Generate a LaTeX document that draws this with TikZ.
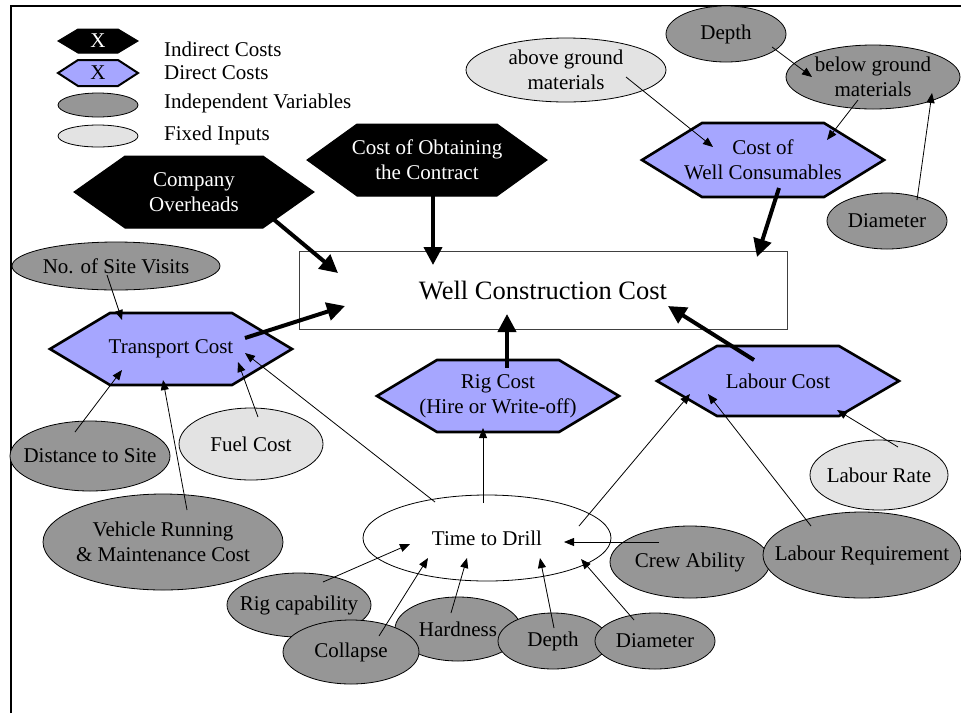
\documentclass[tikz,border=0pt]{standalone}
\usepackage{fontspec}
\setmainfont{Liberation Serif}
\usetikzlibrary{arrows.meta}

\definecolor{directblue}{RGB}{166,166,255}
\definecolor{vargrey}{RGB}{150,150,150}
\definecolor{fixedgrey}{RGB}{227,227,227}

\tikzset{
  lbl/.style={font=\fontsize{21}{25}\selectfont, align=center, inner sep=0pt},
  biglbl/.style={font=\fontsize{26.5}{30}\selectfont, inner sep=0pt},
  ovalline/.style={draw=black, line width=0.8pt},
  indirect/.style={fill=black, draw=black, line width=1pt, line join=miter},
  direct/.style={fill=directblue, draw=black, line width=2.6pt, line join=miter},
  directsmall/.style={fill=directblue, draw=black, line width=2pt, line join=miter},
  whitetext/.style={text=white},
  blacktext/.style={text=black},
  thickarrow/.style={line width=4pt, -{Triangle[length=18pt,width=18pt]}},
  thinarrow/.style={line width=0.8pt, -{Triangle[length=10pt,width=8pt]}},
}

% hexagon with pointed left/right ends:
% name, x, y, half width, half height, inset, outline style, text style, text
\newcommand\hexnode[9]{%
  \coordinate (#1-c) at (#2,#3);
  \path[#7] ([shift={(-#4,0)}]#1-c) -- ([shift={(-#4+#6,-#5)}]#1-c)
    -- ([shift={(#4-#6,-#5)}]#1-c) -- ([shift={(#4,0)}]#1-c)
    -- ([shift={(#4-#6,#5)}]#1-c) -- ([shift={(-#4+#6,#5)}]#1-c) -- cycle;
  \node[lbl, #8] (#1) at (#1-c) {#9};
}

% ellipse with centred label: name, x, y, x radius, y radius, fill, text
\newcommand\ovalnode[7]{%
  \path[ovalline, fill=#6] (#2,#3) ellipse [x radius=#4, y radius=#5];
  \node[lbl] (#1) at (#2,#3) {#7};
}

\begin{document}
\begin{tikzpicture}[x=1pt, y=-1pt]
\useasboundingbox (0,0) rectangle (961,713);

% frame
\draw[line width=2pt, line join=miter] (11,713) -- (11,6) -- (961,6);

% legend
\hexnode{keyind}{98}{41}{40}{12}{20}{indirect}{whitetext}{X}
\hexnode{keydir}{98}{73}{40}{13}{20}{directsmall}{blacktext}{X}
\ovalnode{keyvar}{98}{105}{40}{12}{vargrey}{}
\ovalnode{keyfix}{98}{136}{40}{11}{fixedgrey}{}
\node[lbl, anchor=west] (tind) at (164,49) {Indirect Costs};
\node[lbl, anchor=west] (tdir) at (164,73) {Direct Costs};
\node[lbl, anchor=west] (tvar) at (164,103) {Independent Variables};
\node[lbl, anchor=west] (tfix) at (164,135) {Fixed Inputs};

% main box
\node[draw=black!75, line width=0.8pt, minimum width=488pt, minimum height=78pt,
      biglbl] (wcc) at (543,290) {Well Construction Cost};

% indirect costs
\hexnode{co}{194}{192}{120}{36}{51}{indirect}{whitetext}{Company\\Overheads}
\hexnode{coc}{427}{160}{120}{36}{50}{indirect}{whitetext}{Cost of Obtaining\\the Contract}

% consumables branch
\ovalnode{agm}{566}{70}{100}{32}{fixedgrey}{above ground\\materials}
\ovalnode{depa}{726}{34}{60}{28}{vargrey}{Depth}
\ovalnode{bgm}{873}{77}{87}{32}{vargrey}{below ground\\materials}
\ovalnode{diaa}{887}{221}{60}{28}{vargrey}{Diameter}
\hexnode{cwc}{763}{160}{121}{37}{60}{direct}{blacktext}{Cost of\\Well Consumables}

% transport branch
\ovalnode{nsv}{116}{266}{104}{24}{vargrey}{No. of Site Visits}
\hexnode{tc}{171}{349}{121}{36}{60}{direct}{blacktext}{Transport Cost}
\ovalnode{dts}{90}{456}{80}{35}{vargrey}{Distance to Site}
\ovalnode{fuel}{251}{444}{72}{36}{fixedgrey}{Fuel Cost}
\ovalnode{vrm}{163}{542}{120}{48}{vargrey}{Vehicle Running\\\& Maintenance Cost}

% rig and labour
\hexnode{rig}{498}{396}{121}{36}{60}{direct}{blacktext}{Rig Cost\\(Hire or Write-off)}
\hexnode{lc}{778}{381}{121}{35}{60}{direct}{blacktext}{Labour Cost}
\ovalnode{lrate}{879}{475}{69}{35}{fixedgrey}{Labour Rate}
\ovalnode{crew}{690}{562}{80}{36}{vargrey}{Crew Ability}
\ovalnode{lreq}{862}{555}{99}{43}{vargrey}{Labour Requirement}

% drilling time and its inputs
\ovalnode{ttd}{487}{538}{124}{43}{white}{Time to Drill}
\ovalnode{rcap}{299}{605}{72}{32}{vargrey}{Rig capability}
\ovalnode{hard}{458}{629}{63}{32}{vargrey}{Hardness}
\ovalnode{coll}{351}{652}{68}{32}{vargrey}{Collapse}
\ovalnode{depb}{553}{641}{55}{28}{vargrey}{Depth}
\ovalnode{diab}{655}{641}{60}{28}{vargrey}{Diameter}

% costs feeding the total
\draw[thickarrow] ([shift={(78,26)}]co.center) -- ([shift={(-205,-17)}]wcc.center);
\draw[thickarrow] ([shift={(6,35)}]coc.center) -- ([shift={(-110,-25)}]wcc.center);
\draw[thickarrow] ([shift={(16,28)}]cwc.center) -- ([shift={(214,-33)}]wcc.center);
\draw[thickarrow] ([shift={(74,-11)}]tc.center) -- ([shift={(-198,16)}]wcc.center);
\draw[thickarrow] ([shift={(9,-28)}]rig.center) -- ([shift={(-36,24)}]wcc.center);
\draw[thickarrow] ([shift={(-24,-21)}]lc.center) -- ([shift={(125,16)}]wcc.center);

% consumables inputs
\draw[thinarrow] ([shift={(60,7)}]agm.center) -- ([shift={(-50,-13)}]cwc.center);
\draw[thinarrow] ([shift={(-15,23)}]bgm.center) -- ([shift={(64,-20)}]cwc.center);
\draw[thinarrow] ([shift={(46,13)}]depa.center) -- ([shift={(-61,0)}]bgm.center);
\draw[thinarrow] ([shift={(30,-21)}]diaa.center) -- ([shift={(59,16)}]bgm.center);

% transport inputs
\draw[thinarrow] ([shift={(-9,9)}]nsv.center) -- ([shift={(-49,-29)}]tc.center);
\draw[thinarrow] ([shift={(-15,-24)}]dts.center) -- ([shift={(-49,21)}]tc.center);
\draw[thinarrow] ([shift={(24,-32)}]vrm.center) -- ([shift={(-8,31)}]tc.center);
\draw[thinarrow] ([shift={(7,-27)}]fuel.center) -- ([shift={(67,13)}]tc.center);
\draw[thinarrow] ([shift={(-52,-36)}]ttd.center) -- ([shift={(74,4)}]tc.center);

% drilling time drives rig and labour
\draw[thinarrow] ([shift={(-4,-35)}]ttd.center) -- ([shift={(-15,32)}]rig.center);
\draw[thinarrow] ([shift={(92,-12)}]ttd.center) -- ([shift={(-88,13)}]lc.center);
\draw[thinarrow] ([shift={(-51,-29)}]lreq.center) -- ([shift={(-70,13)}]lc.center);
\draw[thinarrow] ([shift={(19,-28)}]lrate.center) -- ([shift={(59,29)}]lc.center);

% inputs to drilling time
\draw[thinarrow] ([shift={(-31,-20)}]crew.center) -- ([shift={(77,4)}]ttd.center);
\draw[thinarrow] ([shift={(24,-23)}]rcap.center) -- ([shift={(-77,6)}]ttd.center);
\draw[thinarrow] ([shift={(28,-16)}]coll.center) -- ([shift={(-59,20)}]ttd.center);
\draw[thinarrow] ([shift={(-7,-16)}]hard.center) -- ([shift={(-20,20)}]ttd.center);
\draw[thinarrow] ([shift={(1,-13)}]depb.center) -- ([shift={(53,20)}]ttd.center);
\draw[thinarrow] ([shift={(-21,-21)}]diab.center) -- ([shift={(94,21)}]ttd.center);
\end{tikzpicture}
\end{document}
